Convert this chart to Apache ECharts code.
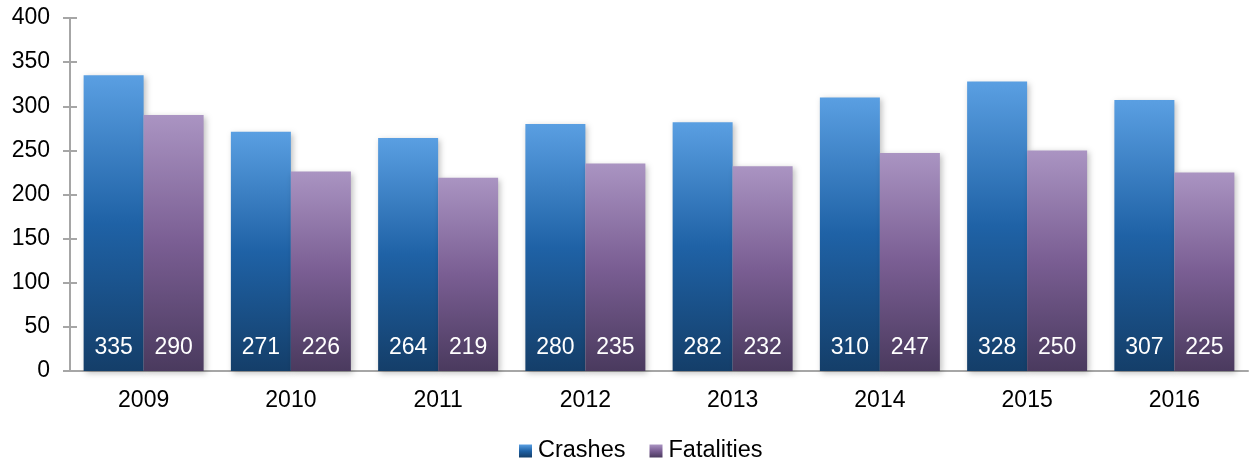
<!DOCTYPE html>
<html><head><meta charset="utf-8">
<script src="https://cdn.jsdelivr.net/npm/echarts@6/dist/echarts.min.js"></script>
<style>html,body{margin:0;padding:0;background:#fff}#c{width:1249px;height:466px}</style>
</head><body><div id="c"></div>
<script>
const categories = ['2009','2010','2011','2012','2013','2014','2015','2016'];
const crashes = [335,271,264,280,282,310,328,307];
const fatalities = [290,226,219,235,232,247,250,225];
const yTicks = {min:0, max:400, interval:50};

const chart = echarts.init(document.getElementById('c'));
const font = 'Arial, "Liberation Sans", sans-serif';
const grad = (top, mid, bot) => new echarts.graphic.LinearGradient(0,0,0,1,[
  {offset:0,color:top},{offset:0.5,color:mid},{offset:1,color:bot}]);
const axisCol = '#A6A6A6';
const label = {show:true, position:'insideBottom', distance:12, color:'#fff',
  fontSize:23, fontFamily:font};
chart.setOption({
  animation:false,
  grid:{left:70, right:1, top:18, bottom:95},
  legend:{bottom:-2, left:514, icon:'rect', itemWidth:13, itemHeight:13, itemGap:24,
    textStyle:{fontSize:23.5, fontFamily:font, color:'#000', padding:[0,0,0,1]},
    data:['Crashes','Fatalities']},
  xAxis:[{type:'category', data:categories,
    axisLine:{lineStyle:{color:axisCol, width:2}},
    axisTick:{length:7, lineStyle:{color:axisCol, width:2}},
    axisLabel:{color:'#000', fontSize:23, fontFamily:font, margin:18}},
   {type:'category', data:categories, position:'bottom',
    axisLine:{show:false},
    axisTick:{inside:true, length:6, lineStyle:{color:axisCol, width:2}},
    axisLabel:{show:false}}],
  yAxis:[{type:'value', min:yTicks.min, max:yTicks.max, interval:yTicks.interval,
    splitLine:{show:false},
    axisLine:{show:true, lineStyle:{color:axisCol, width:2}},
    axisTick:{show:true, length:7, lineStyle:{color:axisCol, width:2}},
    axisLabel:{color:'#000', fontSize:23, fontFamily:font, margin:20}},
   {type:'value', min:yTicks.min, max:yTicks.max, interval:yTicks.interval, position:'left',
    splitLine:{show:false}, axisLine:{show:false},
    axisTick:{show:true, inside:true, length:7, lineStyle:{color:axisCol, width:2}},
    axisLabel:{show:false}}],
  series:[
    {name:'Crashes', type:'bar', data:crashes, barWidth:60, barGap:'0%',
     itemStyle:{color:grad('#5A9FE2','#1F62A6','#143E69'),
       shadowColor:'rgba(0,0,0,0.25)', shadowBlur:6, shadowOffsetX:2, shadowOffsetY:2},
     label:label},
    {name:'Fatalities', type:'bar', data:fatalities, barWidth:60, barGap:'0%',
     itemStyle:{color:grad('#AA94C2','#7A5E93','#4A3A5E'),
       shadowColor:'rgba(0,0,0,0.25)', shadowBlur:6, shadowOffsetX:2, shadowOffsetY:2},
     label:label}
  ]
});
</script></body></html>
